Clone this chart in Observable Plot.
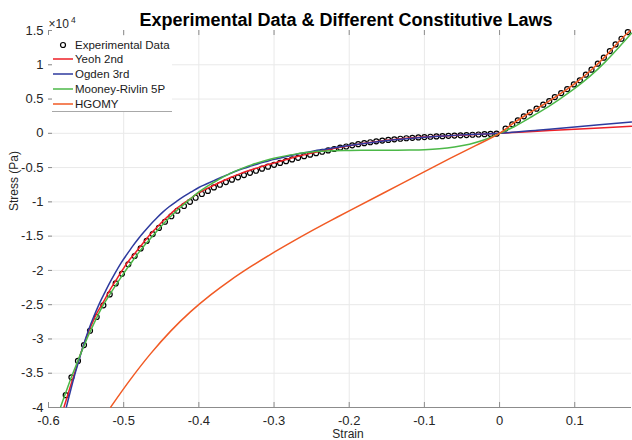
<!DOCTYPE html>
<html><head><meta charset="utf-8">
<script src="https://cdn.jsdelivr.net/npm/d3@7"></script>
<script src="https://cdn.jsdelivr.net/npm/@observablehq/plot@0.6"></script>
<style>
html,body{margin:0;padding:0;background:#fff;overflow:hidden;}
#wrap{position:relative;width:632px;height:440px;}
#wrap svg{display:block;}
#legend{position:absolute;left:52px;top:36px;width:120px;height:75px;background:#fff;border-bottom:1px solid #a8a8a8;font-family:"Liberation Sans",Arial,sans-serif;font-size:11.5px;color:#1a1a1a;}
.row{position:absolute;left:0;width:120px;height:14px;line-height:14px;white-space:nowrap;}
.row svg{position:absolute;left:1px;top:0;}
.row span{position:absolute;left:23px;top:0;}
</style></head><body><div id="wrap"></div>
<script>
// ---- tick labels ----
const xTicks = [-0.6, -0.5, -0.4, -0.3, -0.2, -0.1, 0, 0.1];
const yTicks = [-4, -3.5, -3, -2.5, -2, -1.5, -1, -0.5, 0, 0.5, 1, 1.5];
const yTickLabels = ["-4", "-3.5", "-3", "-2.5", "-2", "-1.5", "-1", "-0.5", "0", "0.5", "1", "1.5"];

// ---- series (stress in units of 10^4 Pa) ----
const seriesNames = ["Experimental Data", "Yeoh 2nd", "Ogden 3rd", "Mooney-Rivlin 5P", "HGOMY"];
const seriesColors = ["#000000", "#ee1f26", "#2e3a9e", "#4cb848", "#f15a24"];

const expStrain = [-0.5771,-0.5695,-0.5608,-0.5528,-0.5448,-0.5359,-0.5270,-0.5186,-0.5106,-0.5023,-0.4938,-0.4854,-0.4774,-0.4694,-0.4614,-0.4531,-0.4451,-0.4366,-0.4286,-0.4198,-0.4118,-0.4043,-0.3960,-0.3880,
 -0.380,-0.372,-0.364,-0.356,-0.348,-0.340,-0.332,-0.324,-0.316,-0.308,-0.300,-0.292,-0.284,-0.276,-0.268,-0.260,-0.252,-0.244,-0.236,-0.228,-0.220,-0.212,-0.204,-0.196,-0.188,-0.180,-0.172,-0.164,-0.156,-0.148,-0.140,-0.132,-0.124,-0.116,-0.108,-0.100,-0.092,-0.084,-0.076,-0.068,-0.060,-0.052,-0.044,-0.036,-0.028,-0.020,-0.012,-0.004,
 0.0080,0.0169,0.0243,0.0323,0.0403,0.0492,0.0581,0.0661,0.0735,0.0820,0.0900,0.0988,0.1068,0.1148,0.1223,0.1307,0.1387,0.1467,0.1543,0.1622,0.1706];
const expStress = [-3.82,-3.56,-3.32,-3.09,-2.88,-2.68,-2.51,-2.35,-2.19,-2.05,-1.91,-1.79,-1.68,-1.57,-1.47,-1.38,-1.29,-1.21,-1.13,-1.06,-1.00,-0.94,-0.885,-0.84,
 -0.79,-0.75,-0.712,-0.676,-0.642,-0.609,-0.577,-0.546,-0.516,-0.487,-0.459,-0.432,-0.406,-0.381,-0.357,-0.334,-0.312,-0.29,-0.269,-0.249,-0.229,-0.21,-0.192,-0.175,-0.159,-0.144,-0.13,-0.117,-0.106,-0.096,-0.087,-0.079,-0.072,-0.066,-0.06,-0.055,-0.05,-0.045,-0.041,-0.037,-0.033,-0.029,-0.025,-0.021,-0.017,-0.013,-0.009,-0.005,
 0.069,0.131,0.19,0.248,0.306,0.36,0.418,0.471,0.529,0.587,0.646,0.714,0.773,0.856,0.929,1.016,1.103,1.20,1.297,1.38,1.477];

const yeohStrain = [-0.5793,-0.575,-0.570,-0.565,-0.561,-0.557,-0.553,-0.548,-0.543,-0.536,-0.527,-0.519,-0.510,-0.502,-0.494,-0.485,-0.477,-0.469,-0.461,-0.453,-0.445,-0.437,-0.429,-0.420,-0.412,-0.404,-0.396,-0.388,-0.376,-0.360,-0.344,-0.328,-0.312,-0.296,-0.280,-0.264,-0.248,-0.232,-0.216,-0.200,-0.180,-0.160,-0.140,-0.120,-0.100,-0.080,-0.060,-0.040,-0.020,0,0.05,0.10,0.1755];
const yeohStress = [-3.99,-3.84,-3.66,-3.49,-3.35,-3.21,-3.08,-2.93,-2.80,-2.63,-2.46,-2.30,-2.14,-2.00,-1.87,-1.75,-1.64,-1.53,-1.43,-1.34,-1.25,-1.17,-1.09,-1.02,-0.96,-0.895,-0.845,-0.80,-0.735,-0.655,-0.585,-0.525,-0.47,-0.42,-0.37,-0.325,-0.285,-0.247,-0.212,-0.18,-0.145,-0.115,-0.09,-0.07,-0.054,-0.042,-0.031,-0.02,-0.01,0,0.03,0.06,0.102];

const ogdenStrain = [-0.5762,-0.572,-0.568,-0.564,-0.560,-0.556,-0.552,-0.548,-0.544,-0.540,-0.535,-0.530,-0.525,-0.520,-0.512,-0.504,-0.496,-0.488,-0.480,-0.472,-0.464,-0.456,-0.448,-0.440,-0.430,-0.420,-0.410,-0.400,-0.390,-0.380,-0.370,-0.360,-0.350,-0.340,-0.330,-0.320,-0.310,-0.300,-0.290,-0.280,-0.270,-0.260,-0.250,-0.240,-0.230,-0.220,-0.200,-0.180,-0.160,-0.140,-0.120,-0.100,-0.080,-0.060,-0.040,-0.020,0,0.05,0.10,0.1755];
const ogdenStress = [-3.99,-3.81,-3.64,-3.48,-3.33,-3.18,-3.04,-2.91,-2.79,-2.68,-2.55,-2.43,-2.32,-2.21,-2.05,-1.90,-1.77,-1.645,-1.53,-1.425,-1.325,-1.235,-1.15,-1.075,-0.995,-0.92,-0.855,-0.79,-0.74,-0.69,-0.64,-0.595,-0.55,-0.51,-0.475,-0.44,-0.41,-0.38,-0.355,-0.33,-0.305,-0.285,-0.265,-0.245,-0.228,-0.21,-0.178,-0.148,-0.12,-0.095,-0.074,-0.056,-0.042,-0.03,-0.019,-0.009,0,0.045,0.093,0.165];

const mooneyStrain = [-0.5838,-0.579,-0.574,-0.569,-0.565,-0.561,-0.557,-0.552,-0.547,-0.541,-0.535,-0.528,-0.520,-0.512,-0.504,-0.496,-0.488,-0.480,-0.472,-0.464,-0.456,-0.448,-0.440,-0.432,-0.424,-0.416,-0.408,-0.400,-0.392,-0.384,-0.376,-0.368,-0.360,-0.350,-0.340,-0.330,-0.320,-0.310,-0.300,-0.290,-0.280,-0.270,-0.260,-0.250,-0.240,-0.230,-0.220,-0.200,-0.180,-0.160,-0.140,-0.120,-0.100,-0.080,-0.060,-0.040,-0.020,0,0.02,0.04,0.06,0.08,0.10,0.12,0.14,0.16,0.1755];
const mooneyStress = [-3.99,-3.84,-3.69,-3.54,-3.43,-3.32,-3.21,-3.08,-2.95,-2.81,-2.67,-2.52,-2.38,-2.24,-2.11,-1.98,-1.86,-1.74,-1.63,-1.53,-1.43,-1.33,-1.24,-1.155,-1.075,-1.00,-0.925,-0.855,-0.795,-0.74,-0.69,-0.64,-0.595,-0.545,-0.50,-0.46,-0.425,-0.393,-0.365,-0.34,-0.318,-0.30,-0.285,-0.272,-0.263,-0.257,-0.253,-0.249,-0.248,-0.248,-0.247,-0.244,-0.238,-0.224,-0.198,-0.158,-0.095,0,0.10,0.225,0.355,0.50,0.655,0.83,1.035,1.27,1.46];

const hgomyStrain = [-0.5173,-0.4907,-0.4641,-0.4375,-0.4109,-0.3843,-0.3577,-0.3311,-0.3045,-0.2779,-0.2513,-0.2247,-0.1981,-0.1316,-0.0652,-0.0319,0,0.02,0.04,0.06,0.08,0.10,0.12,0.14,0.16,0.174];
const hgomyStress = [-3.994,-3.586,-3.214,-2.886,-2.602,-2.357,-2.141,-1.946,-1.765,-1.595,-1.431,-1.274,-1.121,-0.742,-0.363,-0.179,0,0.16,0.30,0.43,0.57,0.725,0.905,1.115,1.355,1.50];

// ---- layout ----
const W = 632, H = 440, mL = 48, mR = 1, mT = 30, mB = 33;
const innerW = W - mL - mR, innerH = H - mT - mB;
const font = "'Liberation Sans', Arial, sans-serif";
const rows = (s, v) => s.map((d, i) => ({strain: d, stress: v[i]}));
const tickColor = "#8c8c8c", gridColor = "#e9e9e9", labelColor = "#262626";

const curves = [
  [yeohStrain, yeohStress, seriesColors[1]],
  [ogdenStrain, ogdenStress, seriesColors[2]],
  [mooneyStrain, mooneyStress, seriesColors[3]],
  [hgomyStrain, hgomyStress, seriesColors[4]]
];

const chart = Plot.plot({
  width: W, height: H,
  marginLeft: mL, marginRight: mR, marginTop: mT, marginBottom: mB,
  style: {fontFamily: font, background: "white"},
  x: {domain: [-0.6, 0.1755], axis: null},
  y: {domain: [-4, 1.5], axis: null},
  marks: [
    Plot.ruleX(xTicks.filter(d => d > -0.6), {stroke: gridColor, strokeWidth: 1}),
    Plot.ruleY(yTicks.filter(d => d > -4 && d < 1.5), {stroke: gridColor, strokeWidth: 1}),
    Plot.ruleY([-4], {stroke: tickColor, strokeWidth: 1.2}),
    Plot.ruleX(xTicks, {stroke: tickColor, insetTop: innerH - 5}),
    Plot.ruleX(xTicks, {stroke: tickColor, insetBottom: innerH - 5}),
    Plot.ruleY(yTicks, {stroke: tickColor, insetRight: innerW - 4}),
    Plot.text(xTicks, {x: d => d, frameAnchor: "bottom", lineAnchor: "bottom", dy: 17, text: d => String(d), fontSize: 13, fill: labelColor}),
    Plot.text(yTicks, {y: d => d, frameAnchor: "left", textAnchor: "end", dx: -5, text: (d, i) => yTickLabels[i], fontSize: 13, fill: labelColor}),
    Plot.dot(rows(expStrain, expStress), {x: "strain", y: "stress", r: 2.5, stroke: seriesColors[0], strokeWidth: 1.2, fill: "none"}),
    ...curves.map(([s, v, c]) => Plot.line(rows(s, v), {x: "strain", y: "stress", stroke: c, strokeWidth: 1.5, curve: "catmull-rom"})),
    Plot.text(["Experimental Data & Different Constitutive Laws"], {frameAnchor: "top", lineAnchor: "bottom", dx: 6, dy: -5, fontSize: 18, fontWeight: "bold", fill: "#000"}),
    Plot.text(["\u00d710"], {frameAnchor: "top-left", textAnchor: "start", lineAnchor: "bottom", dx: 0, dy: -3, fontSize: 12, fill: labelColor}),
    Plot.text(["4"], {frameAnchor: "top-left", textAnchor: "start", lineAnchor: "bottom", dx: 22.5, dy: -7.5, fontSize: 8.5, fill: labelColor}),
    Plot.text(["Stress (Pa)"], {frameAnchor: "left", rotate: -90, lineAnchor: "bottom", dx: -31, dy: -8, fontSize: 12, fill: labelColor}),
    Plot.text(["Strain"], {frameAnchor: "bottom", lineAnchor: "bottom", dx: 8, dy: 30, fontSize: 12, fill: labelColor})
  ]
});

const wrap = document.getElementById("wrap");
wrap.appendChild(chart);

// ---- legend (HTML overlay inside the axes) ----
const legend = document.createElement("div");
legend.id = "legend";
const rowTops = [1.5, 16.25, 31, 45.75, 60.5];
seriesNames.forEach((name, i) => {
  const row = document.createElement("div");
  row.className = "row";
  row.style.top = rowTops[i] + "px";
  const sample = i === 0
    ? `<svg width="21" height="14"><circle cx="10" cy="7" r="2.5" fill="none" stroke="${seriesColors[i]}" stroke-width="1.2"/></svg>`
    : `<svg width="21" height="14"><line x1="0" y1="7" x2="20" y2="7" stroke="${seriesColors[i]}" stroke-width="1.5"/></svg>`;
  row.innerHTML = sample + `<span>${name}</span>`;
  legend.appendChild(row);
});
wrap.appendChild(legend);
</script>
</body></html>
